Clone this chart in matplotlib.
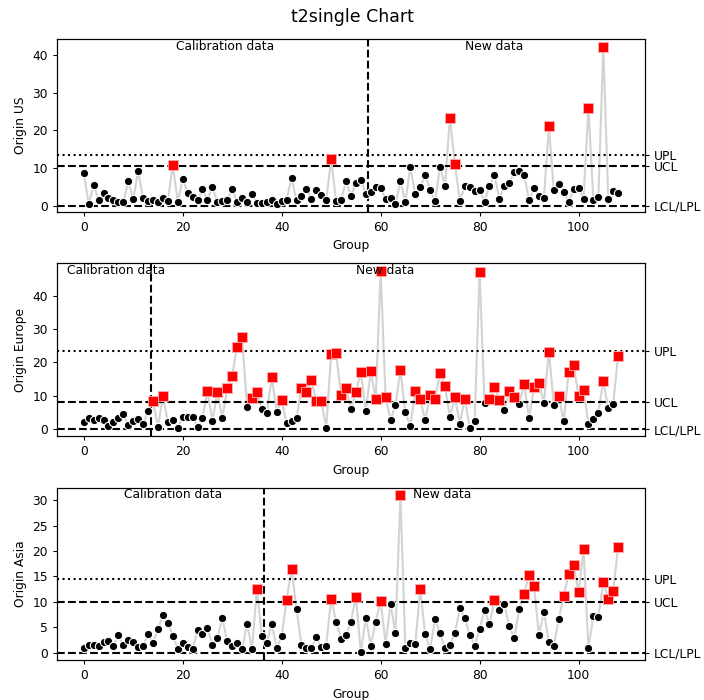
import numpy as np
import matplotlib
matplotlib.use("Agg")
import matplotlib.pyplot as plt
import matplotlib.transforms as mtransforms

# Observed T² statistics per group, one series per origin
us_values = [
    8.6, 0.45, 5.4, 1.5, 3.4, 2.0, 1.4, 0.9, 0.9, 6.4,
    1.7, 9.1, 2.0, 1.3, 1.5, 0.9, 2.0, 1.2, 10.8, 0.9,
    7.1, 3.4, 2.2, 1.4, 4.3, 1.6, 5.0, 0.9, 1.2, 1.4,
    4.4, 0.9, 2.0, 0.9, 3.0, 0.8, 0.7, 0.9, 1.6, 0.5,
    1.2, 1.6, 7.3, 1.4, 2.5, 4.4, 1.8, 4.2, 2.9, 1.6,
    12.3, 1.2, 1.4, 6.5, 2.5, 6.0, 6.8, 3.0, 3.5, 5.0,
    4.6, 1.8, 2.0, 0.5, 6.4, 0.9, 10.3, 3.0, 4.8, 8.2,
    4.1, 1.2, 10.3, 5.2, 23.3, 11.1, 1.3, 5.2, 4.8, 3.8,
    4.1, 1.0, 5.3, 8.0, 1.8, 5.2, 6.0, 8.9, 9.2, 8.2,
    1.4, 4.7, 2.5, 2.1, 21.0, 4.2, 5.6, 3.7, 1.0, 4.4,
    4.6, 1.8, 25.8, 1.4, 2.2, 42.1, 1.8, 3.9, 3.2,
]
europe_values = [
    2.1, 3.3, 2.7, 3.4, 2.7, 0.8, 2.0, 3.3, 4.4, 1.3,
    2.4, 3.1, 1.4, 5.3, 8.4, 0.7, 9.9, 2.1, 2.7, 0.4,
    3.5, 3.7, 3.7, 0.6, 3.4, 11.5, 2.4, 11.1, 3.3, 12.2,
    16.0, 24.7, 27.7, 6.6, 9.3, 11.1, 6.1, 4.9, 15.7, 5.0,
    8.6, 1.7, 2.4, 3.2, 12.2, 11.0, 14.8, 8.3, 8.5, 0.4,
    22.4, 22.7, 10.2, 12.2, 6.1, 11.0, 17.2, 5.3, 17.4, 8.9,
    47.3, 9.6, 2.7, 7.2, 17.7, 5.0, 0.9, 11.4, 8.9, 2.6,
    10.2, 8.9, 16.9, 12.9, 3.7, 9.6, 1.6, 9.1, 0.3, 2.4,
    47.1, 7.7, 9.1, 12.6, 8.8, 5.7, 11.4, 9.5, 7.4, 13.4,
    3.3, 12.6, 13.7, 7.8, 23.2, 7.2, 9.8, 2.4, 17.2, 19.3,
    9.9, 11.7, 1.5, 2.9, 4.7, 14.5, 6.2, 7.6, 21.9,
]
asia_values = [
    1.0, 1.6, 1.5, 1.4, 2.2, 2.4, 1.4, 3.4, 1.5, 2.5,
    2.2, 1.1, 1.4, 3.6, 1.9, 4.6, 7.4, 5.9, 3.3, 0.8,
    2.0, 1.1, 0.8, 4.4, 3.6, 4.8, 1.6, 2.9, 6.8, 2.3,
    1.4, 2.0, 0.7, 5.7, 0.7, 12.6, 3.2, 2.0, 5.6, 1.0,
    3.2, 10.4, 16.5, 8.6, 1.6, 0.9, 1.0, 3.1, 1.1, 1.4,
    10.6, 6.1, 2.8, 3.4, 6.1, 11.0, 0.1, 6.9, 1.4, 6.1,
    10.2, 1.8, 9.6, 3.8, 30.9, 1.0, 2.0, 1.7, 12.5, 3.6,
    0.7, 6.6, 3.8, 0.9, 1.6, 3.8, 8.7, 6.9, 3.5, 1.4,
    4.7, 8.4, 5.6, 10.3, 8.4, 9.5, 5.2, 2.9, 8.5, 11.6,
    15.3, 13.1, 3.4, 8.1, 2.1, 1.4, 6.6, 11.2, 15.4, 17.3,
    11.9, 20.3, 1.0, 7.3, 7.1, 13.9, 10.6, 12.2, 20.8,
]

origins = ["Origin US", "Origin Europe", "Origin Asia"]
series = [us_values, europe_values, asia_values]
# Number of calibration groups (phase I) per origin
n_calibration = [58, 14, 37]
# Control limits per origin
ucl = [10.45, 8.0, 10.0]
upl = [13.3, 23.5, 14.4]
lcl = [0.0, 0.0, 0.0]

plt.rcParams["font.size"] = 8.8
plt.rcParams["xtick.major.size"] = 3.1
plt.rcParams["ytick.major.size"] = 3.1

fig, axes = plt.subplots(3, 1, figsize=(7.04, 7.0), dpi=100)
fig.subplots_adjust(left=0.081, right=0.916, top=0.944, bottom=0.057, hspace=0.30)
fig.suptitle("t2single Chart", fontsize=12.5, y=0.988)

for ax, name, vals, ncal, u, p, l in zip(axes, origins, series, n_calibration, ucl, upl, lcl):
    y = np.asarray(vals)
    x = np.arange(len(y))
    out = y > u

    ax.plot(x, y, color="lightgray", lw=1.5, zorder=1)
    ax.scatter(x[~out], y[~out], s=36, marker="o", color="black",
               edgecolors="white", linewidths=0.8, zorder=3)
    ax.scatter(x[out], y[out], s=55, marker="s", color="red",
               edgecolors="#ffb0b0", linewidths=0.6, zorder=3)

    ax.axhline(u, color="black", ls="--", lw=1.5, zorder=2)
    ax.axhline(l, color="black", ls="--", lw=1.5, zorder=2)
    ax.axhline(p, color="black", ls=":", lw=1.5, zorder=2)
    ax.axvline(ncal - 0.5, color="black", ls="--", lw=1.5, zorder=2)

    ax.set_ylabel(name)
    ax.set_xlabel("Group")
    ax.set_xticks([0, 20, 40, 60, 80, 100])

    trans = mtransforms.blended_transform_factory(ax.transData, ax.transAxes)
    ax.text((ncal - 1) / 2, 0.995, "Calibration data", transform=trans,
            ha="center", va="top")
    ax.text((ncal + len(y) - 1) / 2, 0.995, "New data", transform=trans,
            ha="center", va="top")

    right = ax.twinx()
    right.set_ylim(ax.get_ylim())
    right.set_yticks([l, u, p])
    right.set_yticklabels(["LCL/LPL", "UCL", "UPL"])

plt.savefig("out.png", dpi=100)
